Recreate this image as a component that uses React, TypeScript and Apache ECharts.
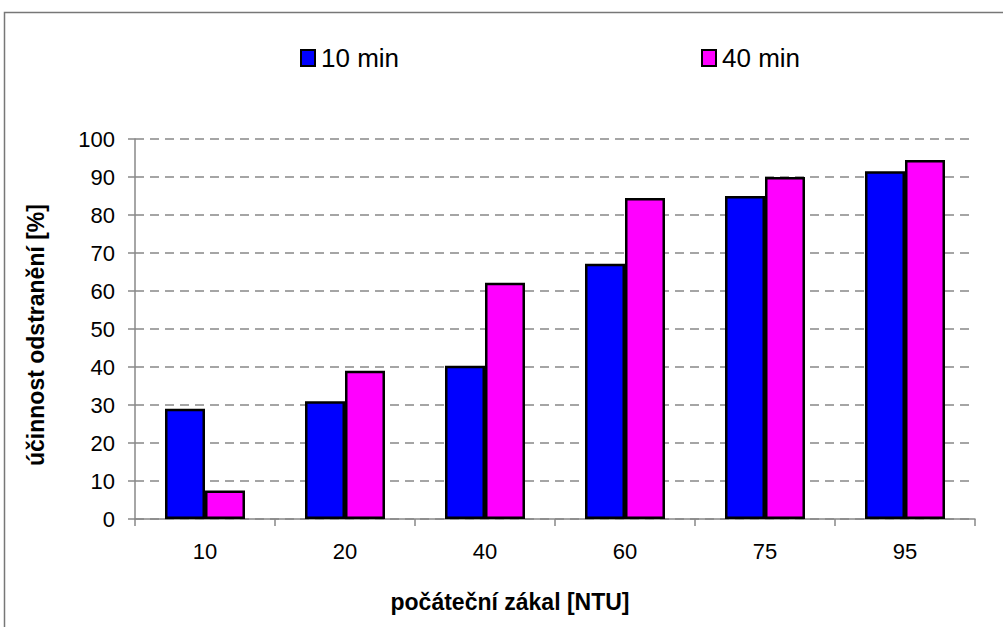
import React, { useEffect, useRef } from "react";
import * as echarts from "echarts";

const categories = ["10", "20", "40", "60", "75", "95"];
const seriesNames = ["10 min", "40 min"];
const values10min = [29, 31, 40.3, 67.2, 85, 91.5];
const values40min = [7.5, 39, 62.2, 84.5, 90, 94.5];
const yTicks = { min: 0, max: 100, interval: 10 };
const xTitle = "počáteční zákal [NTU]";
const yTitle = "účinnost odstranění [%]";

const FONT = "'Liberation Sans', Arial, sans-serif";

export default function App() {
  const ref = useRef<HTMLDivElement>(null);
  useEffect(() => {
    if (!ref.current) return;
    const chart = echarts.init(ref.current, null, { renderer: "svg" });
    const legendText = { fontSize: 26, fontFamily: FONT, color: "#000", padding: [0, 0, 0, 1] };
    chart.setOption({
      animation: false,
      backgroundColor: "#ffffff",
      textStyle: { fontFamily: FONT, color: "#000" },
      graphic: [
        {
          type: "rect",
          shape: { x: 4.5, y: 12.5, width: 1200, height: 800 },
          style: { fill: "none", stroke: "#777", lineWidth: 1.5 },
          silent: true,
        },
      ],
      legend: [
        {
          data: [{ name: seriesNames[0], icon: "rect" }],
          left: 295,
          top: 40,
          padding: 5,
          itemWidth: 14,
          itemHeight: 16,
          itemGap: 0,
          textStyle: legendText,
        },
        {
          data: [{ name: seriesNames[1], icon: "rect" }],
          left: 696,
          top: 40,
          padding: 5,
          itemWidth: 14,
          itemHeight: 16,
          itemGap: 0,
          textStyle: legendText,
        },
      ],
      grid: { left: 135, right: 28, top: 139, bottom: 108, containLabel: false },
      xAxis: {
        type: "category",
        data: categories,
        name: xTitle,
        nameLocation: "middle",
        nameGap: 71,
        nameTextStyle: {
          fontSize: 23,
          fontWeight: "bold",
          fontFamily: FONT,
          color: "#000",
          padding: [0, 90, 0, 0],
        },
        axisLine: { show: true, lineStyle: { color: "#888", width: 1.5 } },
        axisTick: { show: true, length: 7, alignWithLabel: false, lineStyle: { color: "#888", width: 1.5 } },
        axisLabel: { fontSize: 22, fontFamily: FONT, color: "#000", margin: 21 },
        splitLine: { show: false },
      },
      yAxis: {
        type: "value",
        min: yTicks.min,
        max: yTicks.max,
        interval: yTicks.interval,
        name: yTitle,
        nameLocation: "middle",
        nameGap: 88,
        nameTextStyle: {
          fontSize: 23,
          fontWeight: "bold",
          fontFamily: FONT,
          color: "#000",
          padding: [0, 12, 0, 0],
        },
        axisLine: { show: true, lineStyle: { color: "#888", width: 1.5 } },
        axisTick: { show: true, length: 7, inside: false, lineStyle: { color: "#888", width: 1.5 } },
        axisLabel: { fontSize: 22, fontFamily: FONT, color: "#000", margin: 20 },
        splitLine: { show: true, lineStyle: { color: "#888", type: [9, 6], width: 1.5 } },
      },
      series: [
        {
          name: seriesNames[0],
          type: "bar",
          data: values10min,
          barWidth: 40,
          barGap: "0%",
          itemStyle: { color: "#0000ff", borderColor: "#000", borderWidth: 2.5 },
        },
        {
          name: seriesNames[1],
          type: "bar",
          data: values40min,
          barWidth: 40,
          barGap: "0%",
          itemStyle: { color: "#ff00ff", borderColor: "#000", borderWidth: 2.5 },
        },
      ],
    });
    return () => chart.dispose();
  }, []);
  return (
    <div
      ref={ref}
      style={{ position: "fixed", left: 0, top: 0, width: 1003, height: 627 }}
    />
  );
}
